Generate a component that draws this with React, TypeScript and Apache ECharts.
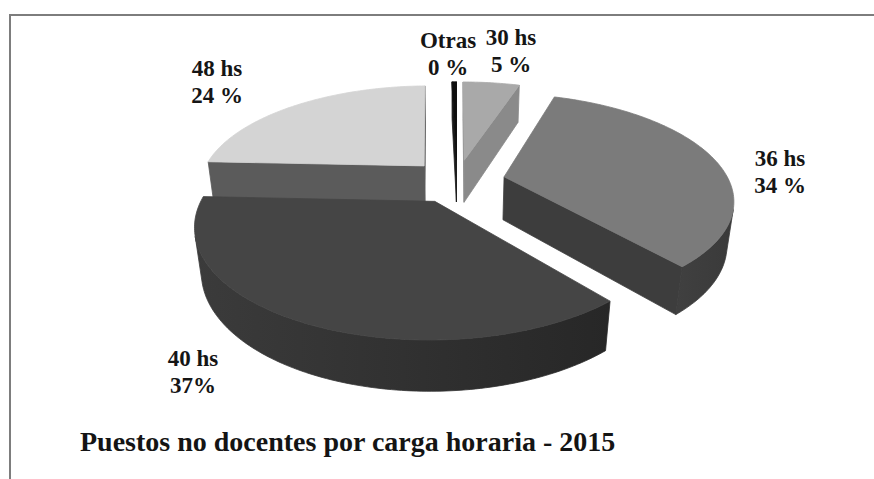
import React, { useEffect, useRef } from "react";
import * as echarts from "echarts";

// Non-teaching posts by weekly hours, share of the total (%)
const categories = ["30 hs", "36 hs", "40 hs", "48 hs", "Otras"];
const shares = [5, 34, 37, 24, 0.4];
const shareLabels = ["5 %", "34 %", "37%", "24 %", "0 %"];
const chartTitle = "Puestos no docentes por carga horaria - 2015";

// Shading of each slice: top face, outer wall (left → right), radial cut face
const topFill = ["#a9a9a9", "#7b7b7b", "#454545", "#d4d4d4", "#0e0e0e"];
const wallFill = [
  ["#8a8a8a", "#8a8a8a"],
  ["#404040", "#3a3a3a"],
  ["#3b3b3b", "#272727"],
  ["#5b5b5b", "#5b5b5b"],
  ["#1c1c1c", "#1c1c1c"],
];
const cutFill = ["#8a8a8a", "#3d3d3d", "#343434", "#5b5b5b", "#1c1c1c"];

// Centre of each two-line label, px
const labelAnchor: [number, number][] = [
  [511, 51],
  [780, 172],
  [193, 372],
  [217, 82],
  [448, 54],
];

const SERIF = "Liberation Serif, Times New Roman, serif";

// 3D view of the pie (lengths in pie radii)
const CX = 457;
const CY = 181; // screen position of the centre of the top face
const SCALE = 225; // px per radius at the depth of that centre
const TILT = (29.3 * Math.PI) / 180;
const DIST = 4.36; // eye distance to the top face centre
const THICK = 0.22; // slab height
const EXPLODE = 0.215; // outward offset of every slice

const SIN = Math.sin(TILT);
const COS = Math.cos(TILT);
const FOCAL = SCALE * DIST;
const EYE = DIST + THICK * SIN;
const CY0 = CY + (FOCAL * THICK * COS) / DIST;

function project(x: number, y: number, z: number): number[] {
  const depth = EYE - y * SIN + z * COS;
  const up = y * COS + z * SIN;
  return [CX + (FOCAL * x) / depth, CY0 - (FOCAL * up) / depth];
}

// true when a vertical face with normal (nx, nz) through (x, z) faces the eye
function facesEye(nx: number, nz: number, x: number, z: number): boolean {
  return nx * -x + nz * (-EYE * COS - z) > 0;
}

const total = shares.reduce((a, b) => a + b, 0);
const startAngle: number[] = [];
{
  let acc = 0;
  shares.forEach((v) => {
    startAngle.push((acc / total) * Math.PI * 2);
    acc += v;
  });
}

// paint far slices first
const drawRank: number[] = (() => {
  const depth = shares.map((v, i) => Math.cos(startAngle[i] + (v / total) * Math.PI));
  const order = shares.map((_, i) => i).sort((a, b) => depth[b] - depth[a]);
  const rank: number[] = [];
  order.forEach((idx, r) => (rank[idx] = r));
  return rank;
})();

function renderSlice(_params: any, api: any) {
  const i = api.value(0) as number;
  const v = api.value(1) as number;
  const a0 = startAngle[i];
  const a1 = a0 + (v / total) * Math.PI * 2;
  const mid = (a0 + a1) / 2;
  const ox = EXPLODE * Math.sin(mid);
  const oz = EXPLODE * Math.cos(mid);
  const steps = Math.max(2, Math.ceil((a1 - a0) / (Math.PI / 180)));

  const top: number[][] = [];
  const bottom: number[][] = [];
  const seen: boolean[] = [];
  for (let k = 0; k <= steps; k++) {
    const t = a0 + ((a1 - a0) * k) / steps;
    const x = ox + Math.sin(t);
    const z = oz + Math.cos(t);
    top.push(project(x, THICK, z));
    bottom.push(project(x, 0, z));
    seen.push(facesEye(Math.sin(t), Math.cos(t), x, z));
  }

  const base = drawRank[i] * 10;
  const children: any[] = [];

  // outer wall, only the part turned towards the eye
  let k = 0;
  while (k <= steps) {
    if (!seen[k]) {
      k++;
      continue;
    }
    let j = k;
    while (j + 1 <= steps && seen[j + 1]) j++;
    if (j > k) {
      const pts = top.slice(k, j + 1).concat(bottom.slice(k, j + 1).reverse());
      const grad = new echarts.graphic.LinearGradient(0, 0, 1, 0, [
        { offset: 0, color: wallFill[i][0] },
        { offset: 1, color: wallFill[i][1] },
      ]);
      children.push({
        type: "polygon",
        z2: base,
        shape: { points: pts },
        style: { fill: grad, stroke: grad, lineWidth: 0.8, lineJoin: "round" },
      });
    }
    k = j + 1;
  }

  // radial cut faces
  const cut = (a: number, nx: number, nz: number) => {
    if (!facesEye(nx, nz, ox, oz)) return;
    const ex = ox + Math.sin(a);
    const ez = oz + Math.cos(a);
    children.push({
      type: "polygon",
      z2: base,
      shape: {
        points: [project(ox, THICK, oz), project(ex, THICK, ez), project(ex, 0, ez), project(ox, 0, oz)],
      },
      style: { fill: cutFill[i], stroke: cutFill[i], lineWidth: 0.8, lineJoin: "round" },
    });
  };
  cut(a0, -Math.cos(a0), Math.sin(a0));
  cut(a1, Math.cos(a1), -Math.sin(a1));

  // top face
  children.push({
    type: "polygon",
    z2: base + 1,
    shape: { points: [project(ox, THICK, oz)].concat(top) },
    style: { fill: topFill[i], stroke: topFill[i], lineWidth: 0.8, lineJoin: "round" },
  });

  return { type: "group", children };
}

export default function App() {
  const ref = useRef<HTMLDivElement>(null);

  useEffect(() => {
    if (!ref.current) return;
    const chart = echarts.init(ref.current, undefined, { renderer: "svg" });

    chart.setOption({
      animation: false,
      backgroundColor: "#ffffff",
      title: {
        text: chartTitle,
        left: 80,
        top: 427,
        padding: 0,
        textStyle: {
          fontFamily: SERIF,
          fontWeight: "bold",
          fontSize: 28,
          color: "#141414",
        },
      },
      graphic: [
        {
          type: "rect",
          silent: true,
          shape: { x: 10, y: 15, width: 1000, height: 1000 },
          style: { fill: "none", stroke: "#7d7d7d", lineWidth: 2 },
        },
        ...categories.map((name, i) => ({
          type: "text",
          silent: true,
          z: 10,
          x: labelAnchor[i][0],
          y: labelAnchor[i][1],
          style: {
            text: name + "\n" + shareLabels[i],
            fontFamily: SERIF,
            fontWeight: "bold",
            fontSize: 23,
            fill: "#151515",
            align: "center",
            verticalAlign: "middle",
            textAlign: "center",
            textVerticalAlign: "middle",
            lineHeight: 27,
          },
        })),
      ],
      series: [
        {
          type: "custom",
          coordinateSystem: "none",
          silent: true,
          renderItem: renderSlice,
          data: shares.map((v, i) => [i, v]),
        },
      ],
    });

    return () => chart.dispose();
  }, []);

  return (
    <div
      ref={ref}
      style={{ position: "fixed", left: 0, top: 0, width: 874, height: 479, background: "#fff" }}
    />
  );
}
